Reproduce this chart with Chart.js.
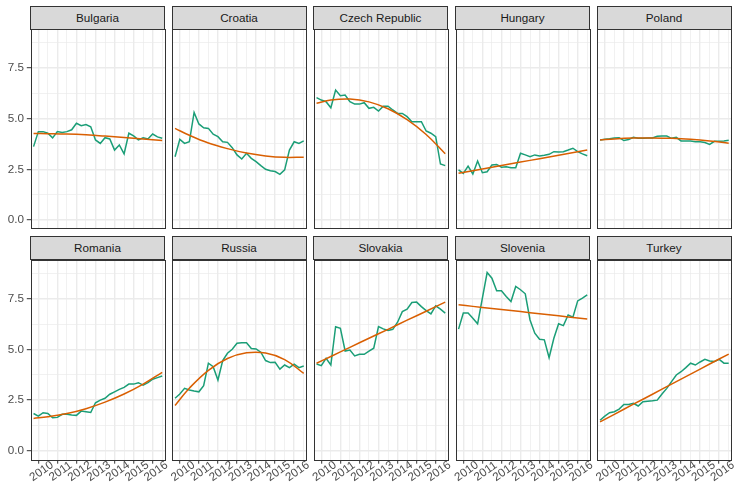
<!DOCTYPE html>
<html>
<head>
<meta charset="utf-8">
<script src="https://cdn.jsdelivr.net/npm/chart.js@4/dist/chart.umd.min.js"></script>
<style>
  html, body { margin: 0; padding: 0; background: #ffffff; }
  #wrap { position: relative; width: 735px; height: 482px; overflow: hidden; background: #ffffff; }
  #wrap canvas { position: absolute; left: 0; top: 0; }
  .strip {
    position: absolute; box-sizing: border-box;
    background: #D9D9D9; border: 1px solid #333333;
    font: 11.7px "Liberation Sans", Arial, sans-serif; color: #1A1A1A;
    text-align: center; line-height: 21px; white-space: nowrap;
  }
</style>
</head>
<body>
<div id="wrap"></div>
<script>
// Quarterly observations (decimal years) and the years at which the fitted trend is sampled
const quarters = [2009.75, 2010, 2010.25, 2010.5, 2010.75, 2011, 2011.25, 2011.5, 2011.75,
  2012, 2012.25, 2012.5, 2012.75, 2013, 2013.25, 2013.5, 2013.75, 2014, 2014.25, 2014.5,
  2014.75, 2015, 2015.25, 2015.5, 2015.75, 2016, 2016.25, 2016.5];
const fitYears = [2009.75, 2010.5, 2011.5, 2012.5, 2013.5, 2014.5, 2015.5, 2016.5];

const xTicks = [2010, 2011, 2012, 2013, 2014, 2015, 2016];
const yTicks = [0, 2.5, 5, 7.5];

const countries = ["Bulgaria", "Croatia", "Czech Republic", "Hungary", "Poland",
  "Romania", "Russia", "Slovakia", "Slovenia", "Turkey"];

// Observed series
const bulgaria = [3.62, 4.36, 4.36, 4.28, 4.05, 4.36, 4.32, 4.36, 4.45, 4.77, 4.65, 4.71, 4.60, 3.95,
  3.78, 4.06, 4.00, 3.45, 3.70, 3.26, 4.28, 4.15, 3.95, 4.06, 4.00, 4.24, 4.10, 4.03];
const croatia = [3.12, 3.98, 3.78, 3.86, 5.31, 4.74, 4.55, 4.52, 4.23, 4.11, 3.86, 3.83, 3.57, 3.21,
  3.01, 3.29, 3.04, 2.88, 2.68, 2.50, 2.43, 2.39, 2.25, 2.47, 3.45, 3.86, 3.78, 3.90];
const czechRepublic = [6.04, 5.92, 5.84, 5.54, 6.41, 6.13, 6.17, 5.84, 5.72, 5.72, 5.79, 5.51, 5.56, 5.38,
  5.62, 5.62, 5.43, 5.26, 5.26, 5.10, 4.85, 4.85, 4.85, 4.39, 4.28, 4.11, 2.76, 2.68];
const hungary = [2.47, 2.30, 2.66, 2.27, 2.91, 2.33, 2.38, 2.71, 2.74, 2.60, 2.63, 2.58, 2.58, 3.29,
  3.21, 3.12, 3.21, 3.16, 3.19, 3.24, 3.37, 3.35, 3.37, 3.45, 3.54, 3.37, 3.26, 3.17];
const poland = [3.95, 3.98, 4.01, 4.05, 4.06, 3.92, 3.97, 4.08, 4.03, 4.03, 4.05, 4.05, 4.13, 4.14,
  4.14, 4.03, 4.08, 3.90, 3.90, 3.90, 3.86, 3.86, 3.82, 3.73, 3.88, 3.88, 3.90, 3.93];
const romania = [1.84, 1.71, 1.88, 1.84, 1.63, 1.65, 1.80, 1.80, 1.77, 1.75, 1.96, 1.93, 1.89, 2.37,
  2.50, 2.59, 2.79, 2.91, 3.03, 3.13, 3.29, 3.29, 3.36, 3.24, 3.36, 3.53, 3.61, 3.69];
const russia = [2.59, 2.80, 3.08, 3.00, 2.95, 2.91, 3.21, 4.32, 4.15, 3.49, 4.45, 4.81, 5.01, 5.30,
  5.33, 5.33, 5.04, 5.02, 4.86, 4.45, 4.35, 4.36, 4.03, 4.23, 4.10, 4.27, 4.10, 4.18];
const slovakia = [4.28, 4.20, 4.56, 4.23, 6.12, 6.04, 4.92, 4.97, 4.68, 4.76, 4.76, 4.92, 5.06, 6.12,
  6.01, 5.93, 5.99, 6.34, 6.86, 6.98, 7.31, 7.33, 7.11, 6.91, 6.75, 7.15, 6.98, 6.79];
const slovenia = [6.00, 6.79, 6.79, 6.54, 6.26, 7.53, 8.79, 8.51, 7.89, 7.89, 7.61, 7.36, 8.10, 7.94,
  7.74, 6.45, 5.80, 5.50, 5.47, 4.59, 5.55, 6.26, 6.17, 6.70, 6.59, 7.39, 7.53, 7.69];
const turkey = [1.51, 1.71, 1.88, 1.93, 2.06, 2.29, 2.29, 2.34, 2.21, 2.42, 2.45, 2.47, 2.50, 2.80,
  3.08, 3.41, 3.74, 3.90, 4.10, 4.32, 4.23, 4.38, 4.51, 4.43, 4.40, 4.51, 4.32, 4.32];

// Fitted trend, sampled at fitYears
const bulgariaFit = [4.27, 4.26, 4.24, 4.20, 4.14, 4.07, 4.00, 3.92];
const croatiaFit = [4.52, 4.18, 3.80, 3.52, 3.30, 3.16, 3.09, 3.10];
const czechRepublicFit = [5.76, 5.92, 5.97, 5.83, 5.49, 4.95, 4.22, 3.27];
const hungaryFit = [2.30, 2.43, 2.60, 2.77, 2.94, 3.11, 3.28, 3.45];
const polandFit = [3.95, 4.00, 4.04, 4.05, 4.03, 3.98, 3.90, 3.79];
const romaniaFit = [1.60, 1.68, 1.84, 2.08, 2.40, 2.80, 3.29, 3.87];
const russiaFit = [2.24, 3.09, 3.97, 4.55, 4.83, 4.82, 4.50, 3.82];
const slovakiaFit = [4.32, 4.65, 5.10, 5.55, 5.99, 6.44, 6.88, 7.33];
const sloveniaFit = [7.20, 7.12, 7.02, 6.92, 6.81, 6.71, 6.60, 6.50];
const turkeyFit = [1.43, 1.80, 2.30, 2.79, 3.29, 3.78, 4.28, 4.77];

const observed = [bulgaria, croatia, czechRepublic, hungary, poland, romania, russia, slovakia, slovenia, turkey];
const fitted = [bulgariaFit, croatiaFit, czechRepublicFit, hungaryFit, polandFit, romaniaFit, russiaFit, slovakiaFit, sloveniaFit, turkeyFit];

// Facet geometry
const W = 735, H = 482;
const colLeft = [30.5, 172, 313.5, 455.5, 597];
const panelW = 134.5;
const rowTop = [29, 259.5];
const panelH = [200, 200.5];
const stripTop = [6, 236];
const stripH = 23.5;
const xMin = 2009.59, xMax = 2016.646;
const yMin = -0.45, yMax = 9.43;

const FONT = '"Liberation Sans", Arial, Helvetica, sans-serif';
Chart.defaults.font.family = FONT;
Chart.defaults.font.size = 11.7;

const GREEN = '#1B9E77', ORANGE = '#D95F02';
const GRID = '#EBEBEB', DARK = '#333333', AXIS_TEXT = '#4D4D4D';

const xGrid = xTicks.concat(xTicks.map(v => v + 0.5)).sort((a, b) => a - b);
const yGrid = yTicks.concat(yTicks.map(v => v + 1.25)).sort((a, b) => a - b);
const isMajorX = v => xTicks.includes(v);
const isMajorY = v => yTicks.includes(v);

// Panel frame drawn over the data, plus rotated year labels under the bottom row
const facetFrame = {
  id: 'facetFrame',
  afterDraw(chart, args, opts) {
    const ctx = chart.ctx;
    const a = chart.chartArea;
    ctx.save();
    ctx.strokeStyle = DARK;
    ctx.lineWidth = 1;
    ctx.strokeRect(Math.round(a.left) + 0.5, Math.round(a.top) + 0.5,
      Math.round(a.right - a.left) - 1, Math.round(a.bottom - a.top) - 1);
    if (opts.xLabels) {
      const xs = chart.scales.x;
      ctx.fillStyle = AXIS_TEXT;
      ctx.font = '11.7px ' + FONT;
      ctx.textAlign = 'center';
      ctx.textBaseline = 'top';
      xTicks.forEach(v => {
        ctx.save();
        ctx.translate(xs.getPixelForValue(v), a.bottom + 3.7 + 2.9);
        ctx.rotate(-35 * Math.PI / 180);
        ctx.fillText(String(v), 0, 0);
        ctx.restore();
      });
    }
    ctx.restore();
  }
};

const wrap = document.getElementById('wrap');

countries.forEach((name, i) => {
  const c = i % 5, r = Math.floor(i / 5);
  const L = colLeft[c], T = rowTop[r], R = L + panelW, B = T + panelH[r];
  const leftCol = c === 0, bottomRow = r === 1;

  const canvas = document.createElement('canvas');
  canvas.width = W; canvas.height = H;
  canvas.style.width = W + 'px'; canvas.style.height = H + 'px';
  wrap.appendChild(canvas);

  const strip = document.createElement('div');
  strip.className = 'strip';
  strip.style.left = (L - 0.5) + 'px';
  strip.style.top = stripTop[r] + 'px';
  strip.style.width = (panelW + 0.5) + 'px';
  strip.style.height = stripH + 'px';
  strip.textContent = name;

  new Chart(canvas, {
    type: 'line',
    data: {
      datasets: [
        {
          label: name + ' trend',
          data: fitYears.map((x, k) => ({ x, y: fitted[i][k] })),
          borderColor: ORANGE, borderWidth: 1.5, pointRadius: 0,
          tension: 0.4, fill: false
        },
        {
          label: name,
          data: quarters.map((x, k) => ({ x, y: observed[i][k] })),
          borderColor: GREEN, borderWidth: 1.5, pointRadius: 0,
          tension: 0, fill: false
        }
      ]
    },
    options: {
      responsive: false,
      animation: false,
      events: [],
      layout: { padding: { left: leftCol ? 0 : L, top: T, right: W - R, bottom: H - B } },
      plugins: {
        legend: { display: false },
        tooltip: { enabled: false },
        facetFrame: { xLabels: bottomRow }
      },
      scales: {
        x: {
          type: 'linear', min: xMin, max: xMax,
          afterBuildTicks: s => { s.ticks = xGrid.map(v => ({ value: v })); },
          afterFit: s => { s.height = 0; },
          ticks: { display: false },
          border: { display: false },
          grid: {
            color: GRID,
            lineWidth: ctx => isMajorX(ctx.tick.value) ? 1.4 : 0.7,
            drawTicks: bottomRow,
            tickLength: 3.7,
            tickWidth: 1,
            tickColor: ctx => isMajorX(ctx.tick.value) ? DARK : 'rgba(0,0,0,0)'
          }
        },
        y: {
          type: 'linear', min: yMin, max: yMax,
          afterBuildTicks: s => { s.ticks = yGrid.map(v => ({ value: v })); },
          afterFit: s => { s.width = leftCol ? L : 0; },
          ticks: {
            display: leftCol,
            padding: 2.9,
            color: AXIS_TEXT,
            font: { size: 11.7 },
            autoSkip: false,
            callback: v => isMajorY(v) ? v.toFixed(1) : ''
          },
          border: { display: false },
          grid: {
            color: GRID,
            lineWidth: ctx => isMajorY(ctx.tick.value) ? 1.4 : 0.7,
            drawTicks: leftCol,
            tickLength: 3.7,
            tickWidth: 1,
            tickColor: ctx => isMajorY(ctx.tick.value) ? DARK : 'rgba(0,0,0,0)'
          }
        }
      }
    },
    plugins: [facetFrame]
  });

  wrap.appendChild(strip);
});
</script>
</body>
</html>
